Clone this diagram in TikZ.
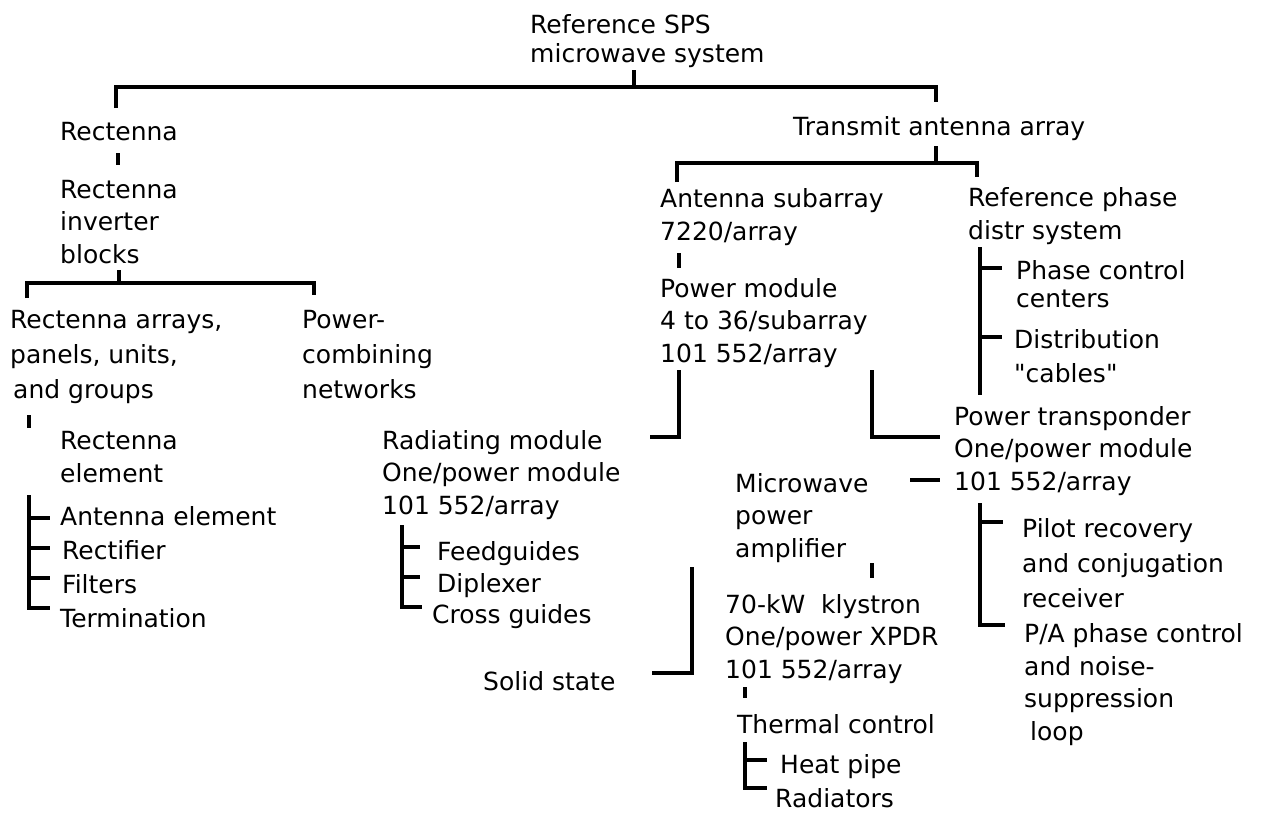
\documentclass[tikz,border=0pt]{standalone}
\usepackage{fontspec}
\setmainfont{DejaVu Sans}
\usetikzlibrary{positioning}

\begin{document}
\begin{tikzpicture}[x=1pt,y=-1pt,
  lbl/.style={anchor=base west, inner sep=0pt, align=left,
    font=\fontsize{25}{32.5}\selectfont},
  wide/.style={font=\fontsize{25}{35}\selectfont},
  link/.style={line width=3.4pt}]

\useasboundingbox (0,0) rectangle (1274,815);

% labels (placed at the baseline of their last line)
\node[lbl, font=\fontsize{25}{29}\selectfont] (sps) at (530,62) {Reference SPS\\microwave system};
\node[lbl] (rect) at (60,140) {Rectenna};
\node[lbl] (rinv) at (60,263) {Rectenna\\inverter\\blocks};
\node[lbl, wide] (rarr) at (10,398) {Rectenna arrays,\\panels, units,\\\hspace*{3pt}and groups};
\node[lbl, wide] (pcomb) at (302,398) {Power-\\combining\\networks};
\node[lbl] (relem) at (60,482) {Rectenna\\element};
\node[lbl] (antel) at (60,525) {Antenna element};
\node[lbl] (rectif) at (62,559) {Rectifier};
\node[lbl] (filt) at (62,593) {Filters};
\node[lbl] (term) at (60,627) {Termination};

\node[lbl] (taa) at (793,135) {Transmit antenna array};
\node[lbl] (asub) at (660,240) {Antenna subarray\\7220/array};
\node[lbl] (rpd) at (968,239) {Reference phase\\distr system};
\node[lbl, font=\fontsize{25}{28}\selectfont] (pcc) at (1016,307) {Phase control\\centers};
\node[lbl, font=\fontsize{25}{34}\selectfont] (dist) at (1014,382) {Distribution\\\textquotedbl cables\textquotedbl};
\node[lbl] (pmod) at (660,362) {Power module\\4 to 36/subarray\\101 552/array};
\node[lbl] (radm) at (382,514) {Radiating module\\One/power module\\101 552/array};
\node[lbl] (feed) at (437,560) {Feedguides};
\node[lbl] (dipl) at (437,592) {Diplexer};
\node[lbl] (cross) at (432,623) {Cross guides};
\node[lbl] (ptr) at (954,490) {Power transponder\\One/power module\\101 552/array};
\node[lbl] (mpa) at (735,557) {Microwave\\power\\amplifier};
\node[lbl] (solid) at (483,690) {Solid state};
\node[lbl] (kly) at (725,678) {70-kW\ \ klystron\\One/power XPDR\\101 552/array};
\node[lbl] (thc) at (737,733) {Thermal control};
\node[lbl] (heat) at (780,773) {Heat pipe};
\node[lbl] (rad) at (775,807) {Radiators};
\node[lbl, wide] (pilot) at (1022,607) {Pilot recovery\\and conjugation\\receiver};
\node[lbl] (pa) at (1024,740) {P/A phase control\\and noise-\\suppression\\\hspace*{6pt}loop};

% bracket corners
\coordinate (t0) at (634,70);
\coordinate (t1) at (634,87);
\coordinate (t2) at (116,108);
\coordinate (t3) at (936,102);
\coordinate (r0) at (118,153);
\coordinate (r1) at (118,165);
\coordinate (r2) at (119,270);
\coordinate (r3) at (119,283);
\coordinate (r4) at (27,298);
\coordinate (r5) at (314,295);
\coordinate (e0) at (29,415);
\coordinate (e1) at (29,428);
\coordinate (e2) at (29,495);
\coordinate (e3) at (29,608);
\coordinate (a0) at (936,146);
\coordinate (a1) at (936,163);
\coordinate (a2) at (677,182);
\coordinate (a3) at (977,177);
\coordinate (m0) at (679,253);
\coordinate (m1) at (679,268);
\coordinate (p0) at (980,247);
\coordinate (p1) at (980,395);
\coordinate (m2) at (679,370);
\coordinate (m3) at (650,437);
\coordinate (m4) at (872,370);
\coordinate (m5) at (940,437);
\coordinate (d0) at (910,480);
\coordinate (d1) at (940,480);
\coordinate (f0) at (402,525);
\coordinate (f1) at (402,607);
\coordinate (x0) at (980,503);
\coordinate (x1) at (980,625);
\coordinate (k0) at (872,563);
\coordinate (k1) at (872,578);
\coordinate (k2) at (692,567);
\coordinate (k3) at (652,673);
\coordinate (k4) at (745,687);
\coordinate (k5) at (745,698);
\coordinate (h0) at (745,742);
\coordinate (h1) at (745,788);

% connectors
\path[draw, link] (t0) -- (t1);
\path[draw, link] (t2) |- (t1) -| (t3);
\path[draw, link] (r0) -- (r1);
\path[draw, link] (r2) -- (r3);
\path[draw, link] (r4) |- (r3) -| (r5);
\path[draw, link] (e0) -- (e1);
\path[draw, link] (e2) -- (e3) -- ++(21,0);
\foreach \y in {518,548,578}
    \path[draw, link] (29,\y) -- ++(21,0);

\path[draw, link] (a0) -- (a1);
\path[draw, link] (a2) |- (a1) -| (a3);
\path[draw, link] (m0) -- (m1);
\path[draw, link] (p0) -- (p1);
\foreach \y in {268,337}
    \path[draw, link] (980,\y) -- ++(22,0);
\path[draw, link] (m2) |- (m3);
\path[draw, link] (m4) |- (m5);
\path[draw, link] (d0) -- (d1);

\path[draw, link] (f0) -- (f1) -- ++(20,0);
\foreach \y in {547,577}
    \path[draw, link] (402,\y) -- ++(18,0);

\path[draw, link] (x0) -- (x1) -- ++(25,0);
\path[draw, link] (980,522) -- ++(23,0);

\path[draw, link] (k0) -- (k1);
\path[draw, link] (k2) |- (k3);
\path[draw, link] (k4) -- (k5);
\path[draw, link] (h0) -- (h1) -- ++(22,0);
\path[draw, link] (745,760) -- ++(22,0);

\end{tikzpicture}
\end{document}
